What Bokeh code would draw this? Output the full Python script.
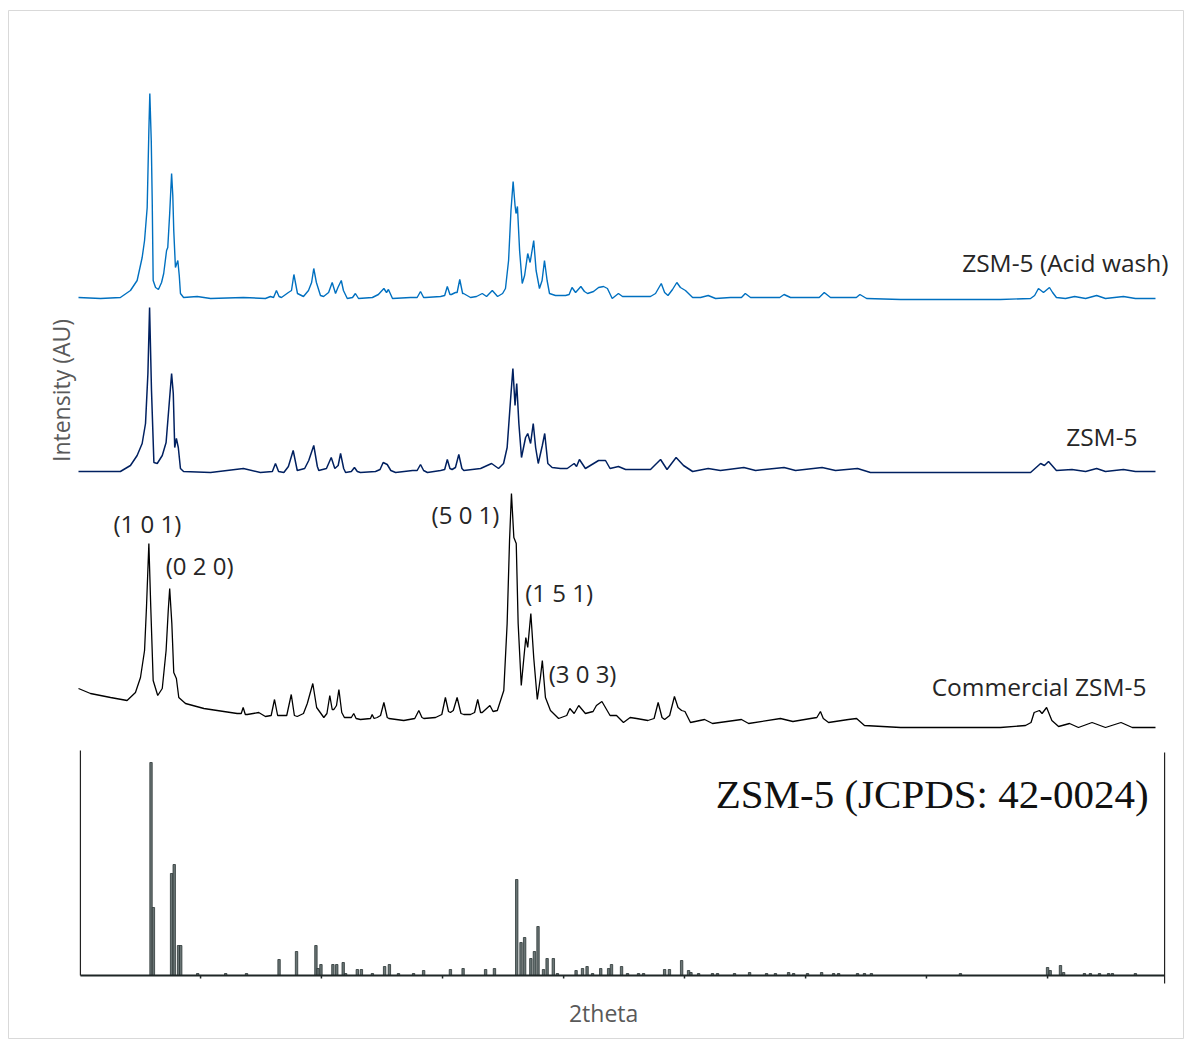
import numpy as np
from bokeh.plotting import figure
from bokeh.models import Range1d
from bokeh.core.properties import value
from bokeh.embed import file_html
from bokeh.resources import INLINE

# ---------------- data (2theta in degrees, intensity in arbitrary units) ----------------
acid_theta = [5.00, 5.92, 6.75, 7.17, 7.45, 7.66, 7.76, 7.87, 7.94, 7.98, 8.04, 8.08, 8.12, 8.22, 8.34, 8.47,
              8.56, 8.68, 8.73, 8.81, 8.89, 8.94, 8.98, 9.05, 9.15, 9.21, 9.26, 9.39, 9.96, 10.52, 11.89, 12.81,
              13.02, 13.15, 13.27, 13.38, 13.48, 13.77, 13.90, 14.00, 14.15, 14.40, 14.61, 14.74, 14.83, 14.94,
              15.11, 15.24, 15.45, 15.60, 15.74, 15.84, 15.98, 16.07, 16.23, 16.45, 16.57, 16.70, 17.28, 17.53,
              17.76, 17.87, 17.95, 18.12, 18.87, 19.15, 19.29, 19.42, 19.50, 20.13, 20.30, 20.41, 20.52, 20.58,
              20.75, 20.82, 20.93, 21.05, 21.09, 21.38, 21.63, 21.87, 22.05, 22.29, 22.51, 22.72, 22.84, 22.97,
              23.07, 23.16, 23.24, 23.28, 23.34, 23.43, 23.54, 23.64, 23.77, 23.87, 24.02, 24.12, 24.26, 24.37,
              24.47, 24.58, 24.68, 24.93, 25.35, 25.50, 25.62, 25.77, 25.99, 26.14, 26.27, 26.52, 26.73, 26.94,
              27.10, 27.30, 27.56, 27.73, 28.27, 28.90, 29.11, 29.35, 29.49, 29.63, 29.82, 30.00, 30.15, 30.36,
              30.66, 30.99, 31.31, 31.62, 32.24, 32.70, 32.86, 33.08, 33.91, 34.30, 34.48, 34.75, 35.59, 35.95,
              36.16, 36.42, 37.26, 37.50, 37.65, 37.93, 39.35, 41.44, 43.52, 44.78, 44.95, 45.11, 45.32, 45.57,
              45.70, 45.86, 46.24, 46.62, 47.08, 47.54, 47.91, 48.66, 49.16, 50.00]
acid_int = [1, 0, 1, 8, 18, 41, 58, 91, 168, 205, 158, 98, 18, 11, 9, 16,
            25, 48, 51, 85, 125, 103, 68, 31, 38, 23, 5, 1, 2, 0, 1, 0,
            2, 1, 8, 2, 1, 6, 8, 24, 5, 2, 8, 16, 30, 16,
            3, 2, 6, 16, 5, 11, 18, 8, 0, 1, 5, 0, 1, 4,
            10, 6, 9, 0, 1, 1, 7, 1, 1, 2, 3, 12, 4, 4,
            6, 6, 19, 5, 5, 1, 2, 5, 2, 8, 2, 5, 10, 38,
            88, 117, 93, 85, 92, 48, 15, 23, 45, 36, 58, 28, 10, 18,
            38, 18, 5, 3, 3, 4, 11, 6, 12, 7, 5, 7, 11, 12,
            10, 0, 5, 2, 2, 2, 5, 15, 6, 3, 9, 16, 11, 8,
            1, 1, 3, 0, 1, 1, 5, 1, 1, 1, 4, 1, 1, 1,
            6, 1, 1, 1, 4, 0, -1, -1, -1, 0, 3, 10, 6, 11,
            6, 1, 0, 2, 0, 3, 0, 2, 0, 0]

zsm_theta = [5.00, 5.92, 6.75, 7.17, 7.45, 7.66, 7.80, 7.90, 7.97, 8.05, 8.15, 8.29, 8.50, 8.66, 8.80, 8.89,
             8.96, 9.02, 9.09, 9.17, 9.26, 9.39, 10.52, 11.89, 12.60, 13.10, 13.23, 13.36, 13.58, 13.77, 13.97,
             14.14, 14.45, 14.62, 14.83, 14.98, 15.04, 15.36, 15.56, 15.71, 15.85, 15.95, 16.08, 16.16, 16.40,
             16.53, 16.65, 16.78, 17.41, 17.60, 17.73, 17.90, 18.05, 18.25, 18.96, 19.15, 19.29, 19.42, 19.58,
             20.13, 20.30, 20.41, 20.52, 20.61, 20.75, 20.89, 21.02, 21.10, 21.80, 22.26, 22.55, 22.76, 22.91,
             23.05, 23.15, 23.24, 23.31, 23.40, 23.51, 23.68, 23.77, 23.89, 24.00, 24.10, 24.21, 24.38, 24.48,
             24.61, 24.79, 25.14, 25.42, 25.71, 25.81, 25.93, 26.18, 26.73, 27.02, 27.21, 27.56, 27.86, 28.90,
             29.32, 29.59, 29.97, 30.28, 30.66, 31.31, 31.82, 32.80, 33.29, 34.48, 34.96, 36.07, 36.63, 37.55,
             38.09, 41.44, 44.78, 45.20, 45.36, 45.53, 45.86, 46.51, 47.08, 47.54, 47.91, 48.66, 49.16, 50.00]
zsm_int = [0, 0, 0, 6, 16, 28, 48, 98, 164, 81, 9, 8, 16, 29, 71, 98,
           78, 24, 33, 24, 3, 0, -1, 3, -1, 0, 8, 0, -1, 5, 21,
           1, 3, 11, 26, 5, 1, 3, 14, 3, 6, 18, 3, -1, 0,
           4, 0, -1, 0, 2, 9, 7, 1, -1, 1, 1, 7, 1, -1,
           1, 2, 12, 3, 2, 4, 17, 3, 1, 3, 8, 3, 8, 24,
           71, 103, 66, 88, 48, 14, 34, 38, 28, 48, 24, 8, 26, 38,
           8, 4, 3, 3, 8, 5, 12, 3, 11, 11, 3, 5, 2, 2,
           12, 2, 14, 6, 0, 3, 1, 4, 1, 4, 1, 4, 1, 3,
           -1, -1, -1, 8, 6, 10, 1, 2, 0, 3, 0, 2, 0, 0]

comm_theta = [5.00, 5.50, 6.34, 7.03, 7.38, 7.59, 7.76, 7.84, 7.94, 8.02, 8.12, 8.31, 8.50, 8.66, 8.75, 8.81,
              8.90, 8.98, 9.09, 9.19, 9.47, 10.24, 11.35, 11.63, 11.80, 11.88, 11.97, 12.05, 12.53, 12.81, 13.05,
              13.19, 13.32, 13.37, 13.70, 13.89, 14.02, 14.14, 14.40, 14.56, 14.79, 14.95, 15.04, 15.25, 15.38,
              15.50, 15.60, 15.67, 15.78, 15.88, 16.00, 16.11, 16.40, 16.50, 16.60, 16.78, 17.20, 17.27, 17.35,
              17.48, 17.62, 17.76, 17.90, 17.97, 18.59, 19.05, 19.22, 19.35, 19.43, 19.92, 20.18, 20.33, 20.46,
              20.54, 20.66, 20.82, 20.98, 21.10, 21.38, 21.55, 21.68, 21.80, 21.87, 22.19, 22.32, 22.50, 22.77,
              22.91, 23.01, 23.09, 23.19, 23.29, 23.37, 23.50, 23.61, 23.69, 23.77, 23.90, 24.02, 24.17, 24.30,
              24.38, 24.51, 24.72, 25.06, 25.40, 25.53, 25.71, 25.90, 26.18, 26.50, 26.64, 26.87, 27.21, 27.48,
              27.77, 28.05, 28.32, 28.79, 29.05, 29.22, 29.38, 29.49, 29.70, 29.90, 30.05, 30.20, 30.34, 30.57,
              31.16, 31.49, 32.70, 33.00, 34.33, 34.85, 35.59, 35.85, 36.00, 36.12, 36.34, 37.17, 37.51, 37.84,
              39.35, 43.52, 44.57, 44.80, 44.93, 45.15, 45.26, 45.45, 45.67, 45.95, 46.41, 46.78, 47.35, 47.91,
              48.56, 49.03, 50.00]
comm_int = [39, 34, 30, 27, 35, 50, 77, 120, 184, 120, 47, 32, 39, 77, 117, 139,
            104, 55, 49, 30, 24, 19, 15, 14, 14, 20, 13, 13, 15, 11, 12,
            28, 12, 12, 12, 33, 12, 11, 14, 24, 44, 20, 17, 10, 14,
            32, 18, 18, 22, 38, 15, 10, 10, 14, 9, 8, 9, 13, 9,
            10, 12, 25, 10, 9, 7, 9, 17, 10, 9, 10, 13, 30, 16,
            15, 17, 30, 14, 13, 13, 15, 28, 15, 15, 22, 16, 17, 37,
            104, 187, 234, 190, 184, 104, 42, 70, 90, 80, 114, 70, 28, 50,
            67, 30, 17, 9, 12, 19, 14, 22, 14, 16, 22, 26, 12, 12,
            5, 10, 9, 7, 9, 25, 10, 8, 12, 31, 20, 17, 16, 5,
            8, 4, 8, 4, 9, 6, 9, 10, 16, 9, 5, 8, 9, 2,
            0, 0, 2, 5, 15, 17, 14, 20, 7, 1, 4, 0, 5, 0,
            5, 0, 0]

stick_theta = [8.03, 8.13, 8.89, 9.00, 9.18, 9.27, 9.98, 11.15, 12.02, 13.38, 14.11, 14.92, 15.01, 15.13,
               15.63, 15.79, 16.06, 16.16, 16.65, 16.82, 17.28, 17.79, 17.99, 18.37, 19.00, 19.42, 20.54,
               21.07, 22.01, 22.38, 23.31, 23.49, 23.64, 23.90, 24.05, 24.20, 24.43, 24.58, 24.84, 25.01,
               25.79, 26.06, 26.25, 26.48, 26.82, 27.15, 27.27, 27.69, 27.94, 28.40, 28.61, 29.49, 29.69,
               30.20, 30.49, 30.59, 30.91, 31.49, 31.70, 32.41, 33.04, 33.75, 34.12, 34.67, 34.88, 35.46,
               36.05, 36.55, 36.76, 37.55, 37.84, 38.13, 41.85, 45.49, 45.60, 46.03, 46.16, 47.03, 47.28,
               47.66, 48.04, 48.20, 49.16]
stick_int = [213, 68, 102, 111, 30, 30, 2, 2, 2, 16, 24, 30, 7, 11,
             11, 11, 13, 2, 6, 6, 2, 9, 11, 2, 2, 5, 6,
             7, 6, 7, 96, 33, 38, 17, 24, 49, 6, 17, 17, 2,
             5, 7, 9, 2, 7, 7, 11, 9, 2, 2, 2, 6, 6,
             15, 5, 3, 2, 2, 2, 2, 3, 2, 2, 3, 2, 2,
             3, 2, 2, 2, 2, 2, 2, 8, 5, 10, 3, 2, 2,
             2, 2, 2, 2]

jcpds_tick_theta = [10.10, 15.15, 20.21, 25.27, 30.32, 35.38, 40.43, 45.49]

series_labels = ["ZSM-5 (Acid wash)", "ZSM-5", "Commercial ZSM-5"]
peak_labels = ["(1 0 1)", "(0 2 0)", "(5 0 1)", "(1 5 1)", "(3 0 3)"]
ref_label = "ZSM-5 (JCPDS: 42-0024)"

# ---------------- layout constants ----------------
ACID_BASE, ZSM_BASE, COMM_BASE = 740, 567, 311
STICK_BASE, STICK_TOP = 63, 288
STICK_LEFT, STICK_RIGHT = 5.08, 50.38

p = figure(width=1187, height=1040, output_backend="svg", toolbar_location=None,
           x_axis_type=None, y_axis_type=None,
           x_range=Range1d(2.0752, 51.170), y_range=Range1d(0, 1028),
           min_border_left=8, min_border_right=4, min_border_top=10, min_border_bottom=2)
p.outline_line_color = "#d9d9d9"
p.outline_line_width = 1
p.grid.visible = False
p.background_fill_color = "white"
p.border_fill_color = "white"

p.line(acid_theta, np.array(acid_int) + ACID_BASE, line_color="#0070C0", line_width=1.4)
p.line(zsm_theta, np.array(zsm_int) + ZSM_BASE, line_color="#002060", line_width=1.5)
p.line(comm_theta, np.array(comm_int) + COMM_BASE, line_color="#000000", line_width=1.3)

# JCPDS stick pattern
p.vbar(x=stick_theta, bottom=STICK_BASE, top=np.array(stick_int) + STICK_BASE, width=0.1,
       fill_color="#6a7575", line_color="#2b3535", line_width=0.8)
p.segment(x0=[STICK_LEFT], y0=[STICK_BASE], x1=[STICK_RIGHT], y1=[STICK_BASE],
          line_color="#1e2626", line_width=2.2)
p.segment(x0=[STICK_LEFT, STICK_RIGHT], y0=[STICK_BASE, STICK_BASE - 8],
          x1=[STICK_LEFT, STICK_RIGHT], y1=[STICK_TOP, STICK_TOP - 2],
          line_color="#222222", line_width=1.2)
p.segment(x0=jcpds_tick_theta, y0=[STICK_BASE] * len(jcpds_tick_theta),
          x1=jcpds_tick_theta, y1=[STICK_BASE - 3] * len(jcpds_tick_theta),
          line_color="#1e2626", line_width=1.5)

# series labels
p.text(x=[50.54, 49.25, 49.62], y=[776, 602, 352], text=series_labels,
       text_font=value("Open Sans"), text_font_size="24.5px", text_color="#262626",
       text_align="right", text_baseline="middle")

# peak labels
p.text(x=[7.88, 10.06, 21.17, 25.08, 26.06], y=[515, 473, 524, 446, 365], text=peak_labels,
       text_font=value("Open Sans"), text_font_size="24px", text_color="#262626",
       text_align="center", text_baseline="middle")

# reference label
p.text(x=[49.71], y=[245], text=[ref_label],
       text_font=value("Liberation Serif"), text_font_size="41px", text_color="#111111",
       text_align="right", text_baseline="middle")

# axis titles
p.text(x=[4.25], y=[648], text=["Intensity (AU)"], angle=np.pi / 2,
       text_font=value("Open Sans"), text_font_size="23px", text_color="#595959",
       text_align="center", text_baseline="middle")
p.text(x=[26.94], y=[26], text=["2theta"],
       text_font=value("Open Sans"), text_font_size="23px", text_color="#595959",
       text_align="center", text_baseline="middle")

open("out.html", "w").write(file_html(p, INLINE))
